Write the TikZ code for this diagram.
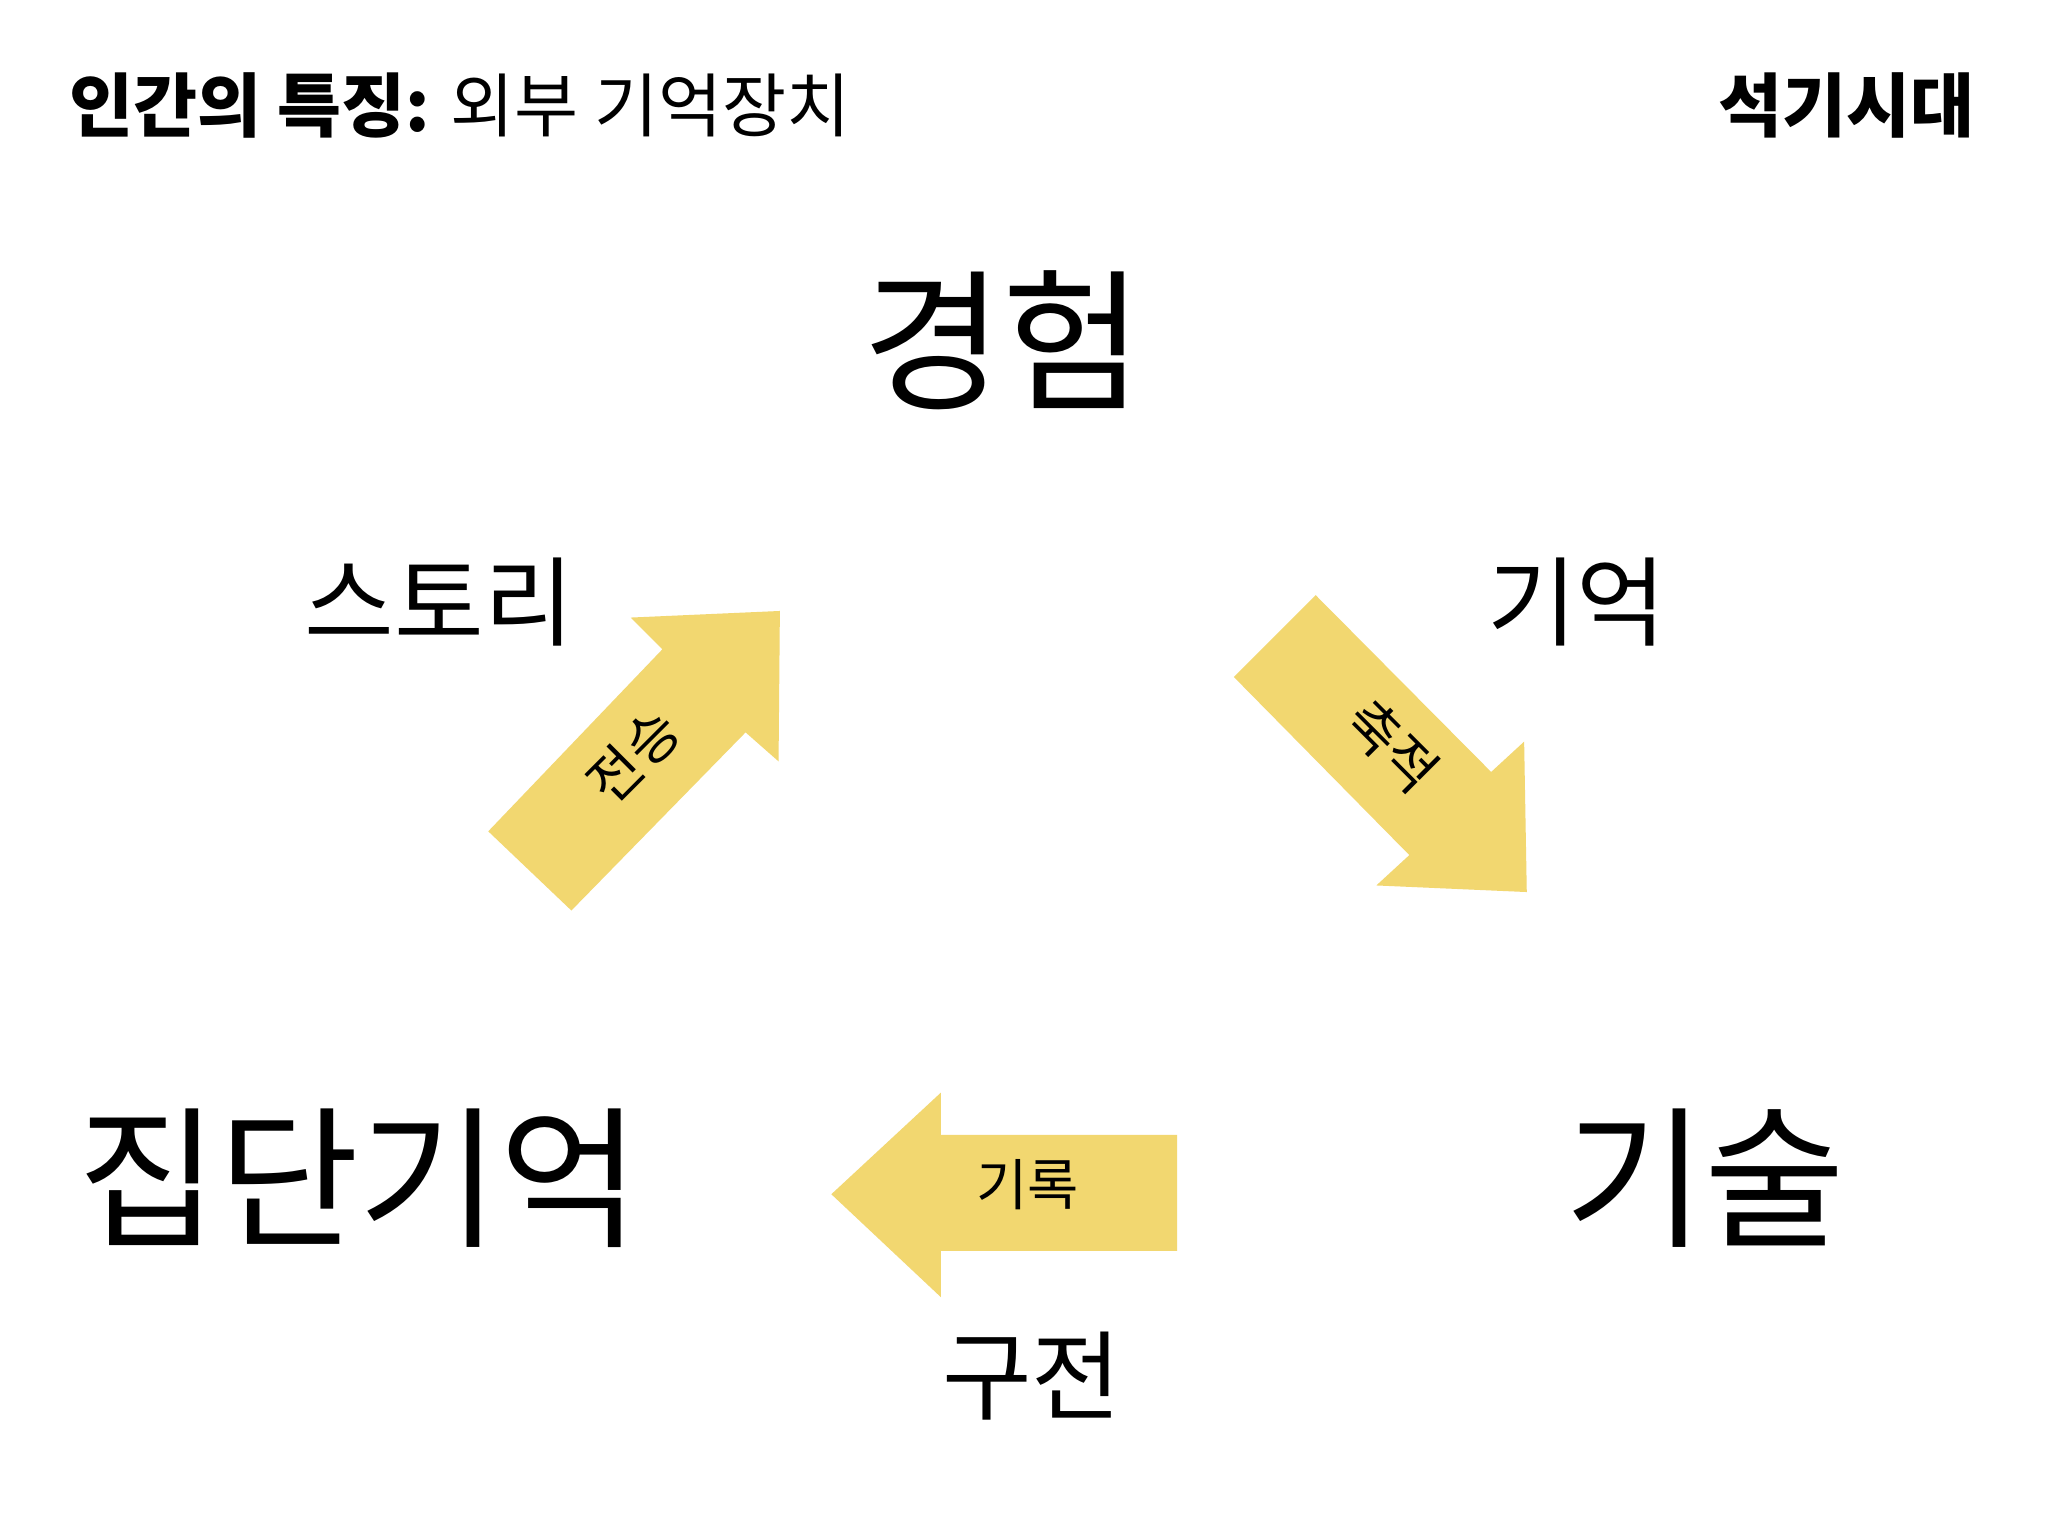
\documentclass[tikz,border=0pt]{standalone}
\usepackage{fontspec}
\setmainfont{Noto Sans CJK KR}
\definecolor{arr}{HTML}{F2D770}
\begin{document}
\begin{tikzpicture}[x=0.01cm,y=-0.01cm,
  big/.style={font=\fontsize{33}{36}\selectfont},
  mid/.style={font=\fontsize{21}{24}\selectfont},
  lab/.style={font=\fontsize{12}{14}\selectfont},
  yarrow/.style={fill=arr,draw=none}]
\useasboundingbox (0,0) rectangle (1552,1164);
\fill[white] (0,0) rectangle (1552,1164);
\node[anchor=west,font=\fontsize{15}{18}\selectfont,inner sep=0] (title) at (52,80) {\textbf{인간의 특징:} 외부 기억장치};
\node[anchor=east,font=\bfseries\fontsize{15}{18}\selectfont,inner sep=0] (era) at (1497,80) {석기시대};
\node[big] (exp) at (760,258) {경험};
\node[mid] (story) at (333,456) {스토리};
\node[mid] (mem) at (1195,456) {기억};
\node[big] (coll) at (272,893) {집단기억};
\node[big] (tech) at (1292,893) {기술};
\node[mid] (oral) at (782,1043) {구전};
\fill[yarrow] (370,630) -- (502,492) -- (478,468) -- (591,463) -- (590,577) -- (565,555) -- (433,690) -- cycle;
\fill[yarrow] (935,513) -- (997,451) -- (1130,585) -- (1155,562) -- (1157,676) -- (1043,671) -- (1068,648) -- cycle;
\fill[yarrow] (630,905) -- (713,828) -- (713,860) -- (892,860) -- (892,948) -- (713,948) -- (713,983) -- cycle;
\node[lab,rotate=45] (l1) at (480,573) {전승};
\node[lab,rotate=-45] (l2) at (1055,565) {축적};
\node[lab] (l3) at (779,898) {기록};
\end{tikzpicture}
\end{document}
